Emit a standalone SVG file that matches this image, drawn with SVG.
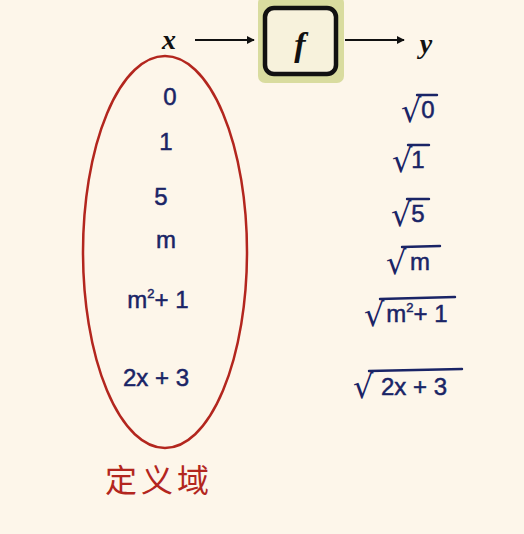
<svg xmlns="http://www.w3.org/2000/svg" width="524" height="534" viewBox="0 0 524 534">
<defs>
<marker id="ah" viewBox="0 0 10 10" refX="9" refY="5" markerWidth="8" markerHeight="8" markerUnits="userSpaceOnUse" orient="auto"><path d="M0,0 L10,5 L0,10 z" fill="#111"/></marker>
<style>
.var{font-family:"Liberation Serif","DejaVu Serif",serif;font-style:italic;font-weight:bold;fill:#111;text-anchor:middle}
.hw{font-family:"Liberation Sans","DejaVu Sans",sans-serif;font-size:24px;fill:#1a2466;stroke:#1a2466;stroke-width:0.5;text-anchor:middle}
.rad{font-family:"DejaVu Sans",sans-serif;font-size:32px;fill:#1a2466}
.vin{stroke:#1a2466;stroke-width:2.4;fill:none;stroke-linecap:round}
.conn{stroke:#111;stroke-width:2;fill:none}
</style>
</defs>
<rect x="0" y="0" width="524" height="534" fill="#fdf6ea"/>

<g id="connectors">
<line class="conn" x1="195" y1="40" x2="254" y2="40" marker-end="url(#ah)"/>
<line class="conn" x1="345" y1="40" x2="404" y2="40" marker-end="url(#ah)"/>
</g>

<g id="input-x"><text class="var" x="169" y="49" font-size="28">x</text></g>
<g id="function-f">
<rect x="258" y="-4" width="86" height="87" rx="7" fill="#d9dc9f"/>
<rect x="265" y="8" width="71" height="66" rx="9" fill="#f7f2dc" stroke="#111" stroke-width="4.5"/>
<text class="var" x="300" y="56" font-size="34">f</text>
</g>
<g id="output-y"><text class="var" x="426" y="53" font-size="28">y</text></g>

<g id="domain">
<ellipse cx="165" cy="252" rx="82" ry="196" fill="none" stroke="#b3261e" stroke-width="2.5"/>
<text class="hw" x="170" y="105">0</text>
<text class="hw" x="166" y="150">1</text>
<text class="hw" x="161" y="205">5</text>
<text class="hw" x="166" y="248">m</text>
<text class="hw" x="158" y="308">m<tspan font-size="13" dy="-10">2</tspan><tspan dy="10">+ 1</tspan></text>
<text class="hw" x="156" y="386">2x + 3</text>
<text x="159" y="492" font-family="'Noto Sans CJK SC',sans-serif" font-size="32" fill="#b3261e" text-anchor="middle" letter-spacing="4">定义域</text>
</g>

<g id="range">
<g id="y0"><text class="rad" x="401" y="122">√</text><polyline class="vin" points="417,95 437,95"/><text class="hw" x="428" y="118">0</text></g>
<g id="y1"><text class="rad" x="392" y="172">√</text><polyline class="vin" points="408,145 429,145"/><text class="hw" x="418" y="168">1</text></g>
<g id="y5"><text class="rad" x="391" y="226">√</text><polyline class="vin" points="407,199 429,199"/><text class="hw" x="418" y="222">5</text></g>
<g id="ym"><text class="rad" x="386" y="274">√</text><polyline class="vin" points="402,247 440,246"/><text class="hw" x="420" y="270">m</text></g>
<g id="ym21"><text class="rad" x="364" y="326">√</text><polyline class="vin" points="380,299 455,297"/><text class="hw" x="417" y="322">m<tspan font-size="13" dy="-10">2</tspan><tspan dy="10">+ 1</tspan></text></g>
<g id="y2x3"><text class="rad" x="353" y="398">√</text><polyline class="vin" points="369,371 462,369"/><text class="hw" x="414" y="395">2x + 3</text></g>
</g>
</svg>
